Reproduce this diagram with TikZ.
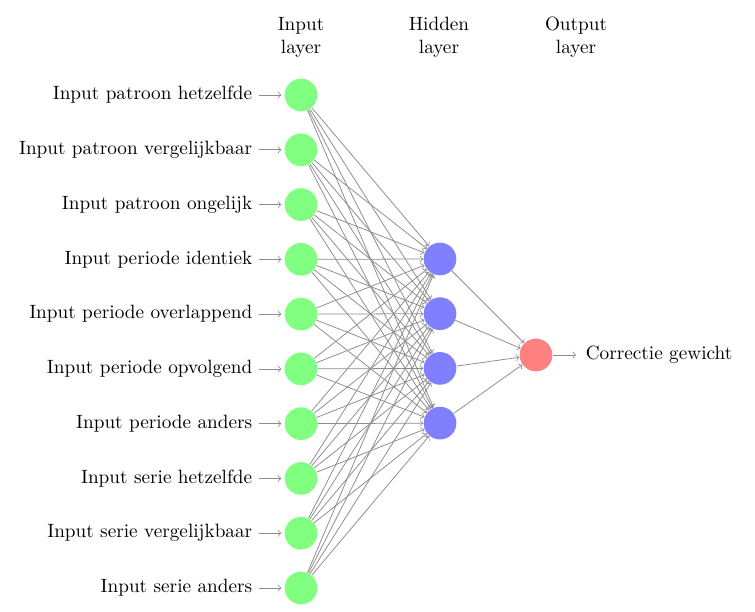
\documentclass[tikz,border=0pt]{standalone}
\begin{document}
\begin{tikzpicture}[x=0.52pt,y=-0.52pt,
  neuron/.style={circle,fill=black!25,minimum size=17pt,inner sep=0pt},
  inneuron/.style={neuron,fill=green!50},
  hidneuron/.style={neuron,fill=blue!50},
  outneuron/.style={neuron,fill=red!50},
  annot/.style={text width=4em,text centered},
  conn/.style={->,draw=black!45},
  pinconn/.style={->,draw=black!45,shorten >=1.5pt}]
\useasboundingbox (0,0) rectangle (755,612);
\foreach \name/\txt [count=\i from 0] in {1/Input patroon hetzelfde,2/Input patroon vergelijkbaar,3/Input patroon ongelijk,4/Input periode identiek,5/Input periode overlappend,6/Input periode opvolgend,7/Input periode anders,8/Input serie hetzelfde,9/Input serie vergelijkbaar,10/Input serie anders}{
  \node[inneuron] (I-\name) at (301,{95+54.78*\i}) {};
  \node[anchor=east] (L-\name) at (259,{95+54.78*\i}) {\txt};
  \draw[pinconn] (L-\name) -- (I-\name);
}
\foreach \name [count=\i from 0] in {1,...,4}
  \node[hidneuron] (H-\name) at (440,{259+54.7*\i}) {};
\node[outneuron] (O) at (536,355) {};
\node[anchor=west] (OL) at (579,355) {Correctie gewicht};
\draw[pinconn] (O) -- (OL);
\foreach \s in {1,...,10}
  \foreach \d in {1,...,4}
    \draw[conn] (I-\s) -- (H-\d);
\foreach \s in {1,...,4}
  \draw[conn] (H-\s) -- (O);
\node[annot] (hl) at (439,37) {Hidden layer};
\node[annot] (il) at (301,37) {Input layer};
\node[annot] (ol) at (576,37) {Output layer};
\end{tikzpicture}
\end{document}
